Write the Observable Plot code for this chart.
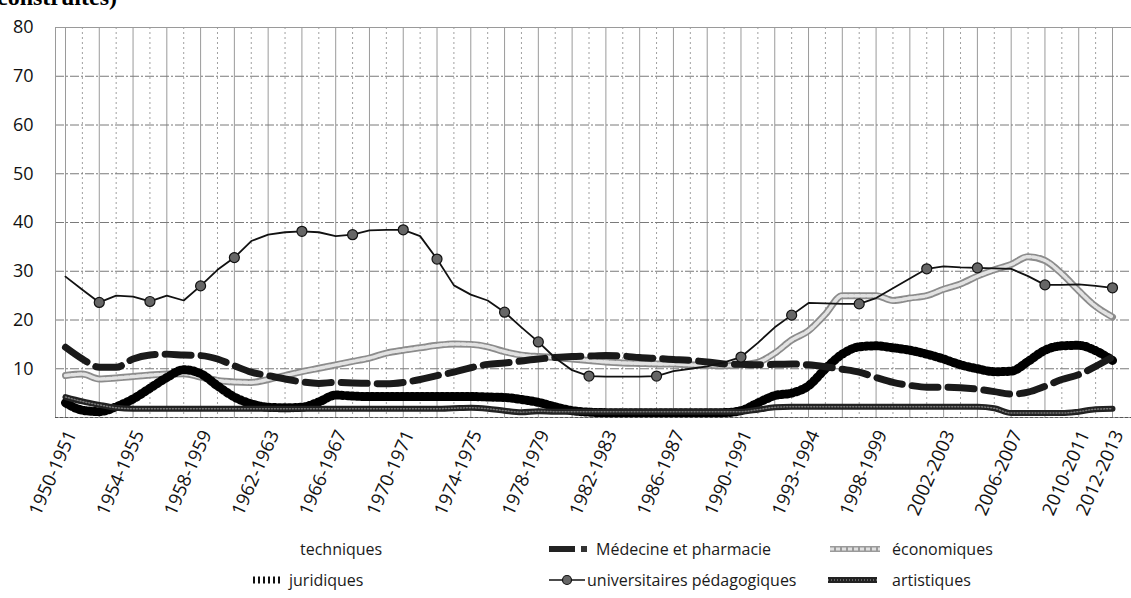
<!DOCTYPE html>
<html><head><meta charset="utf-8">
<script src="https://cdn.jsdelivr.net/npm/d3@7"></script>
<script src="https://cdn.jsdelivr.net/npm/@observablehq/plot@0.6"></script>
<style>
body{margin:0;background:#fff;overflow:hidden;width:1131px;height:598px;position:relative;font-family:"Open Sans",sans-serif;}
#title{position:absolute;left:-3px;top:-15px;font:bold 24px/24px "Liberation Serif",serif;color:#000;white-space:nowrap;}
#chart{position:absolute;left:0;top:0;}
#legend{position:absolute;left:0;top:530px;width:1131px;height:68px;font-size:16px;color:#1a1a1a;}
.item{position:absolute;display:flex;align-items:center;height:22px;white-space:nowrap}
.item svg{display:block}
</style></head>
<body>
<div id="chart"></div>
<div id="title">construites)</div>
<div id="legend"></div>
<script>
// ---- data (%) ----
const years = [1950,1951,1952,1953,1954,1955,1956,1957,1958,1959,
  1960,1961,1962,1963,1964,1965,1966,1967,1968,1969,
  1970,1971,1972,1973,1974,1975,1976,1977,1978,1979,
  1980,1981,1982,1983,1984,1985,1986,1987,1988,1989,
  1990,1991,1992,1993,1994,1995,1996,1997,1998,1999,
  2000,2001,2002,2003,2004,2005,2006,2007,2008,2009,
  2010,2011,2012];

const universitaires = [28.9,26.2,23.6,25.0,24.8,23.8,25.0,24.0,27.0,30.3,
  32.8,36.2,37.5,38.0,38.2,38.0,37.2,37.5,38.4,38.5,
  38.5,37.2,32.5,27.1,25.2,24.0,21.6,18.5,15.5,12.2,
  9.7,8.5,8.4,8.4,8.4,8.5,9.5,10.0,10.5,11.3,
  12.4,15.3,18.5,21.0,23.5,23.4,23.3,23.3,24.5,26.5,
  28.5,30.5,31.0,30.8,30.7,30.6,30.5,29.0,27.2,27.2,
  27.3,27.0,26.6];
const universitairesMarkers = [1952,1955,1958,1960,1964,1967,1970,1972,1976,1978,1981,1985,1990,1993,1997,2001,2004,2008,2012];

const medecine = [14.4,12.0,10.3,10.3,12.0,12.8,13.0,12.8,12.7,12.0,
  10.6,9.3,8.6,7.9,7.3,7.0,7.2,7.1,7.0,6.9,
  7.2,7.8,8.6,9.3,10.2,10.9,11.2,11.6,12.0,12.3,
  12.5,12.6,12.7,12.6,12.3,12.1,11.9,11.7,11.4,11.0,
  10.9,10.8,10.9,11.0,10.8,10.4,9.9,9.3,8.2,7.2,
  6.6,6.2,6.2,6.1,5.8,5.3,4.8,5.2,6.4,7.8,
  8.8,10.5,12.4];

const economiques = [8.6,8.9,7.9,8.1,8.4,8.7,8.9,9.0,8.3,7.6,
  7.3,7.2,7.8,8.6,9.4,10.1,10.8,11.5,12.2,13.2,
  13.8,14.3,14.8,15.1,15.0,14.5,13.5,12.8,12.5,12.3,
  12.0,11.7,11.4,11.2,11.1,11.0,11.0,10.8,10.7,10.6,
  10.8,11.3,13.2,15.9,17.8,21.2,25.0,25.0,25.0,24.0,
  24.5,25.0,26.3,27.4,29.0,30.3,31.4,33.0,32.2,29.5,
  26.0,22.8,20.6];

const juridiques = [3.0,1.5,1.2,2.2,3.8,6.0,8.2,9.8,9.0,6.5,
  4.2,2.8,2.1,2.0,2.1,3.2,4.6,4.4,4.3,4.3,
  4.3,4.3,4.3,4.3,4.3,4.2,4.1,3.7,3.1,2.2,
  1.4,1.1,1.0,1.0,1.0,1.0,1.0,1.0,1.0,1.0,
  1.4,3.0,4.5,5.0,6.5,10.0,13.0,14.5,14.7,14.3,
  13.8,13.0,12.0,10.8,10.0,9.4,9.5,11.5,13.8,14.7,
  14.8,13.7,11.7];

const artistiques = [4.2,3.3,2.6,2.0,1.8,1.8,1.8,1.8,1.8,1.8,
  1.8,1.8,1.8,1.8,1.8,1.8,1.8,1.8,1.8,1.8,
  1.8,1.8,1.8,1.9,2.0,1.8,1.4,1.1,1.3,1.2,
  1.2,1.2,1.2,1.2,1.2,1.2,1.2,1.2,1.2,1.2,
  1.2,1.6,2.1,2.2,2.2,2.2,2.2,2.2,2.2,2.2,
  2.2,2.2,2.2,2.2,2.2,1.9,0.9,0.9,0.9,0.9,
  1.2,1.7,1.8];

const tickYears  = [1950,1954,1958,1962,1966,1970,1974,1978,1982,1986,1990,1994,1998,2002,2006,2010,2012];
const tickLabels = ["1950-1951","1954-1955","1958-1959","1962-1963","1966-1967","1970-1971","1974-1975","1978-1979","1982-1983","1986-1987","1990-1991","1993-1994","1998-1999","2002-2003","2006-2007","2010-2011","2012-2013"];
const yTicks = [10,20,30,40,50,60,70,80];
const legendNames = ["techniques","Médecine et pharmacie","économiques","juridiques","universitaires pédagogiques","artistiques"];

// ---- build ----
const rows = vals => years.map((y, i) => ({year: y, value: vals[i]}));
const uniRows = rows(universitaires);
const markerRows = uniRows.filter(d => universitairesMarkers.includes(d.year));

const chart = Plot.plot({
  width: 1131, height: 530,
  marginTop: 27, marginBottom: 113, marginLeft: 55, marginRight: 0,
  style: {fontFamily: "'Open Sans', sans-serif", fontSize: "18px", color: "#111", background: "transparent"},
  x: {domain: [1950, 2012], range: [65, 1112]},
  y: {domain: [0, 80], range: [417, 27]},
  marks: [
    Plot.ruleX(years.filter(y => y % 2 === 0), {stroke: "#9a9a9a", strokeWidth: 1}),
    Plot.ruleX(years.filter(y => y % 2 === 1), {stroke: "#a0a0a0", strokeWidth: 1, strokeDasharray: "2,3"}),
    Plot.ruleY(yTicks, {stroke: "#7a7a7a", strokeWidth: 1, strokeDasharray: "9,2,2,2"}),
    Plot.frame({stroke: "#9a9a9a", strokeWidth: 1}),
    Plot.ruleY([0], {stroke: "#555", strokeDasharray: "3,2"}),
    // économiques
    Plot.line(rows(economiques), {x: "year", y: "value", curve: "monotone-x", stroke: "#8c8c8c", strokeWidth: 7}),
    Plot.line(rows(economiques), {x: "year", y: "value", curve: "monotone-x", stroke: "#e2e2e2", strokeWidth: 3.5, strokeDasharray: "4,2"}),
    // juridiques (hatched)
    Plot.line(rows(juridiques), {x: "year", y: "value", curve: "monotone-x", stroke: "#000", strokeWidth: 9, strokeDasharray: "2,3"}),
    // artistiques
    Plot.line(rows(artistiques), {x: "year", y: "value", curve: "monotone-x", stroke: "#222", strokeWidth: 6}),
    Plot.line(rows(artistiques), {x: "year", y: "value", curve: "monotone-x", stroke: "#777", strokeWidth: 1.5, strokeDasharray: "1,2"}),
    // médecine
    Plot.line(rows(medecine), {x: "year", y: "value", curve: "monotone-x", stroke: "#1a1a1a", strokeWidth: 7, strokeDasharray: "26,10"}),
    // universitaires
    Plot.line(uniRows, {x: "year", y: "value", stroke: "#111", strokeWidth: 1.8}),
    Plot.dot(markerRows, {x: "year", y: "value", r: 5, fill: "#666", stroke: "#111", strokeWidth: 1.2}),
    Plot.axisX({ticks: tickYears, tickFormat: d => tickLabels[tickYears.indexOf(d)], tickRotate: -66, tickSize: 0, tickPadding: 14, dx: 6, label: null, fontSize: 18.5, fill: "#111"}),
    Plot.axisY({ticks: yTicks, tickSize: 0, tickPadding: 22, label: null, fontSize: 18, fill: "#111"})
  ]
});
document.getElementById("chart").appendChild(chart);

// ---- legend (HTML below the SVG) ----
const ns = "http://www.w3.org/2000/svg";
function swatch(w, draw) {
  const s = document.createElementNS(ns, "svg");
  s.setAttribute("width", w); s.setAttribute("height", 22);
  s.innerHTML = draw;
  return s;
}
const swatches = [
  {left: 300, top: 8, w: 0, svg: ""},
  {left: 549, top: 8, w: 47, svg: '<rect x="0" y="8" width="26" height="6" fill="#222"/><rect x="32" y="8" width="6" height="6" fill="#333"/>'},
  {left: 830, top: 8, w: 62, svg: '<rect x="0" y="8" width="50" height="6" fill="#9a9a9a"/><line x1="0" x2="50" y1="11" y2="11" stroke="#e0e0e0" stroke-width="3" stroke-dasharray="4,2"/>'},
  {left: 253, top: 39, w: 36, svg: '<line x1="0" x2="30" y1="11" y2="11" stroke="#111" stroke-width="7" stroke-dasharray="2,3"/>'},
  {left: 549, top: 39, w: 38, svg: '<line x1="0" x2="36" y1="11" y2="11" stroke="#111" stroke-width="1.5"/><circle cx="18" cy="11" r="4.5" fill="#666" stroke="#111" stroke-width="1.2"/>'},
  {left: 828, top: 39, w: 64, svg: '<rect x="0" y="8" width="49" height="6" fill="#222"/><line x1="0" x2="49" y1="11" y2="11" stroke="#777" stroke-width="1.5" stroke-dasharray="1,2"/>'}
];
const legend = document.getElementById("legend");
legendNames.forEach((name, i) => {
  const sw = swatches[i];
  const div = document.createElement("div");
  div.className = "item";
  div.style.left = sw.left + "px"; div.style.top = sw.top + "px";
  if (sw.w) div.appendChild(swatch(sw.w, sw.svg));
  const span = document.createElement("span");
  span.textContent = name;
  div.appendChild(span);
  legend.appendChild(div);
});
</script>
</body></html>
